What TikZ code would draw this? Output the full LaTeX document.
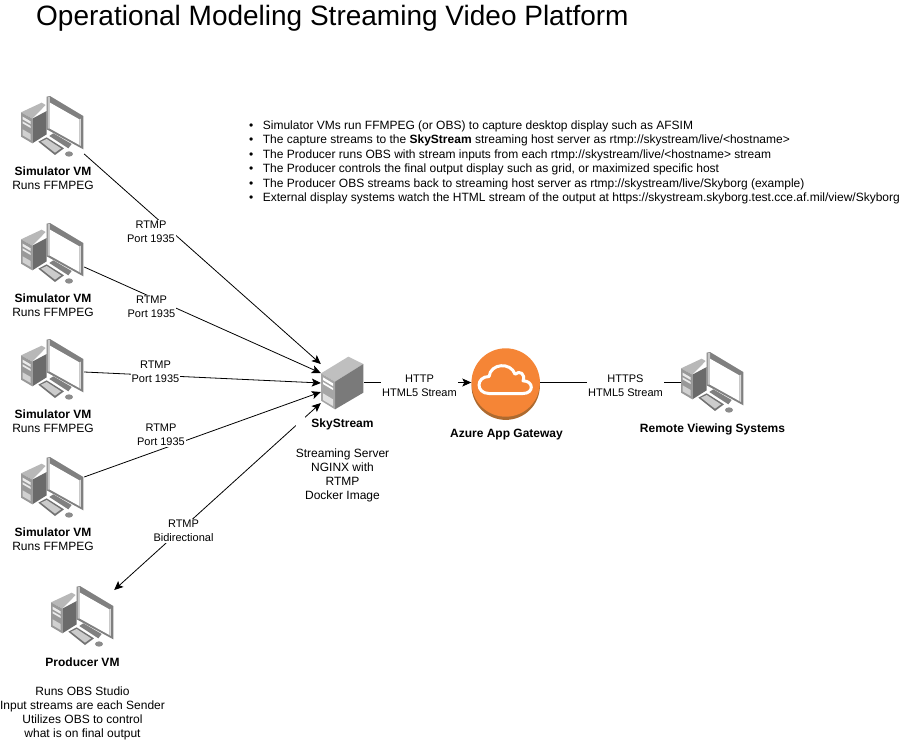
\documentclass[tikz,border=0pt]{standalone}
\usepackage{fontspec}
\setmainfont{Liberation Sans}
\usetikzlibrary{arrows.meta}

\definecolor{awsorange}{HTML}{F58536}
\definecolor{awsshade}{HTML}{AD6A2F}

\tikzset{
  iconbox/.style={minimum width=63pt, minimum height=62pt, inner sep=0pt},
  vmlabel/.style={align=center, font=\fontsize{12}{14}\selectfont},
  linklabel/.style={align=center, fill=white, inner sep=1pt, font=\fontsize{11}{14}\selectfont},
  flow/.style={draw=black, line width=0.8pt, -{Stealth[length=9pt,width=8pt,inset=2pt]}},
  flowboth/.style={draw=black, line width=0.8pt, {Stealth[length=9pt,width=8pt,inset=2pt]}-{Stealth[length=9pt,width=8pt,inset=2pt]}},
  pics/workstation/.style={code={
    \begin{scope}[x=0.3333pt, y=-0.3333pt]
      % Torre
      \fill[black!28] (0,49) -- (62,20) -- (74,27) -- (34,68) -- cycle;
      \fill[black!58] (34,68) -- (77,45) -- (77,115) -- (34,142) -- cycle;
      \fill[black!40] (0,49) -- (34,68) -- (34,142) -- (0,122) -- cycle;
      \fill[black!8] (5,62) -- (29,76) -- (29,84) -- (5,70) -- cycle;
      \fill[black!8] (5,76) -- (29,90) -- (29,96) -- (5,82) -- cycle;
      \fill[black!18] (5,100) -- (29,114) -- (29,132) -- (5,118) -- cycle;
      % Monitor
      \fill[black!50] (77,2) -- (87,0) -- (187,60) -- (187,160) -- (77,100) -- cycle;
      \fill[black!22] (80,4) -- (87,2) -- (87,98) -- (80,98) -- cycle;
      \fill[white] (87,20) -- (175,70) -- (175,147) -- (87,98) -- cycle;
      \fill[black!15] (175,70) -- (180,68) -- (180,150) -- (175,147) -- cycle;
      % Base
      \fill[black!50] (85,120) -- (97,112) -- (152,144) -- (142,157) -- cycle;
      % Teclado
      \fill[black!55] (52,137) -- (77,124) -- (129,157) -- (102,177) -- cycle;
      \fill[black!20] (60,137) -- (77,129) -- (120,157) -- (102,170) -- cycle;
      % Raton
      \fill[black!45] (144,174) ellipse [x radius=12, y radius=8];
    \end{scope}
  }},
  pics/streamhost/.style={code={
    \begin{scope}[x=0.3333pt, y=-0.3333pt]
      \fill[black!25] (0,52) -- (82,2) -- (127,24) -- (42,77) -- cycle;
      \fill[black!52] (42,77) -- (127,24) -- (127,110) -- (42,160) -- cycle;
      \fill[black!35] (0,52) -- (42,77) -- (42,160) -- (0,134) -- cycle;
      \fill[white] (6,64) -- (36,82) -- (36,90) -- (6,72) -- cycle;
      \fill[white] (6,78) -- (36,96) -- (36,102) -- (6,84) -- cycle;
      \fill[black!12] (6,112) -- (36,130) -- (36,150) -- (6,132) -- cycle;
    \end{scope}
  }},
}

\begin{document}
\begin{tikzpicture}[x=1pt, y=-1pt]
  \useasboundingbox (0,0) rectangle (912,742);

  % Titulo
  \node[anchor=west, font=\fontsize{28}{32}\selectfont, inner sep=0pt] (title) at (36,18.5) {Operational Modeling Streaming Video Platform};

  % Notas
  \node[anchor=north west, align=left, inner sep=0pt, font=\fontsize{12}{14.4}\selectfont] (notes) at (249,120.5) {%
    \textbullet\hspace{9.5pt}Simulator VMs run FFMPEG (or OBS) to capture desktop display such as AFSIM\\
    \textbullet\hspace{9.5pt}The capture streams to the \textbf{SkyStream} streaming host server as rtmp://skystream/live/<hostname>\\
    \textbullet\hspace{9.5pt}The Producer runs OBS with stream inputs from each rtmp://skystream/live/<hostname> stream\\
    \textbullet\hspace{9.5pt}The Producer controls the final output display such as grid, or maximized specific host\\
    \textbullet\hspace{9.5pt}The Producer OBS streams back to streaming host server as rtmp://skystream/live/Skyborg (example)\\
    \textbullet\hspace{9.5pt}External display systems watch the HTML stream of the output at https://skystream.skyborg.test.cce.af.mil/view/Skyborg};

  % Simuladores
  \foreach \n/\y in {1/96, 2/223, 3/339, 4/457} {
    \pic at (21,\y) {workstation};
    \node[iconbox] (sim\n) at (52.5,\y+31) {};
    \node[vmlabel] (simlabel\n) at (53,\y+82.5) {\textbf{Simulator VM}\\Runs FFMPEG};
  }

  % Productor y visores
  \pic at (51,586) {workstation};
  \node[iconbox] (producer) at (82.5,617) {};
  \node[vmlabel] (producerlabel) at (82.5,662.5) {\textbf{Producer VM}};
  \node[vmlabel] (producernote) at (82.5,713) {Runs OBS Studio\\Input streams are each Sender\\Utilizes OBS to control\\what is on final output};
  \pic at (681,352) {workstation};
  \node[iconbox] (remote) at (712.5,382.5) {};
  \node[vmlabel] (remotelabel) at (712.5,429.5) {\textbf{Remote Viewing Systems}};

  % Servidor
  \pic at (321,356) {streamhost};
  \node[minimum width=43pt, minimum height=53pt, inner sep=0pt] (server) at (342.5,382.5) {};
  \node[vmlabel] (serverlabel) at (342.5,424.5) {\textbf{SkyStream}};
  \node[vmlabel] (servernote) at (342.5,475.5) {Streaming Server\\NGINX with\\RTMP\\Docker Image};

  % Gateway
  \fill[awsshade] (505.7,385.7) circle [radius=34.2];
  \node[circle, fill=awsorange, minimum size=68.4pt, inner sep=0pt] (gateway) at (505.7,382.5) {};
  \begin{scope}[shift={(505.7,382.5)}, x=0.3333pt, y=-0.3333pt]
    \draw[white, line width=3pt, line join=round]
      (-50,33) .. controls (-90,33) and (-90,-18) .. (-50,-18)
      .. controls (-45,-58) and (15,-62) .. (28,-25)
      .. controls (42,-38) and (60,-25) .. (52,-5)
      .. controls (85,-5) and (85,33) .. (52,33) -- cycle;
  \end{scope}
  \node[vmlabel] (gatewaylabel) at (506.5,434.5) {\textbf{Azure App Gateway}};

  % Enlaces
  \draw[flow] ([yshift=-27pt]sim1.east) -- ([yshift=18.5pt]server.west);
  \draw[flow] ([yshift=-13pt]sim2.east) -- ([yshift=9.5pt]server.west);
  \draw[flow] ([yshift=-2pt]sim3.east) -- ([yshift=-0.5pt]server.west);
  \draw[flow] ([yshift=11pt]sim4.east) -- ([yshift=-9.5pt]server.west);
  \draw[flowboth] ([yshift=-20.5pt]server.west) -- ([yshift=27pt]producer.east);
  \draw[flow] (server.east) -- (gateway.west);
  \draw[draw=black, line width=0.8pt] (gateway.east) -- (remote.west);
  \draw[white, line width=3pt] (296,425.5) -- (305,417.5);

  % Etiquetas de los enlaces
  \node[linklabel] (rtmp1) at (151,232) {RTMP\\Port 1935};
  \node[linklabel] (rtmp2) at (151.5,307) {RTMP\\Port 1935};
  \node[linklabel] (rtmp3) at (155.5,372) {RTMP\\Port 1935};
  \node[linklabel] (rtmp4) at (161,435) {RTMP\\Port 1935};
  \node[linklabel] (rtmp5) at (183.5,531) {RTMP\\Bidirectional};
  \node[linklabel] (http) at (419.5,386) {HTTP\\HTML5 Stream};
  \node[linklabel] (https) at (625.5,386) {HTTPS\\HTML5 Stream};
\end{tikzpicture}
\end{document}
